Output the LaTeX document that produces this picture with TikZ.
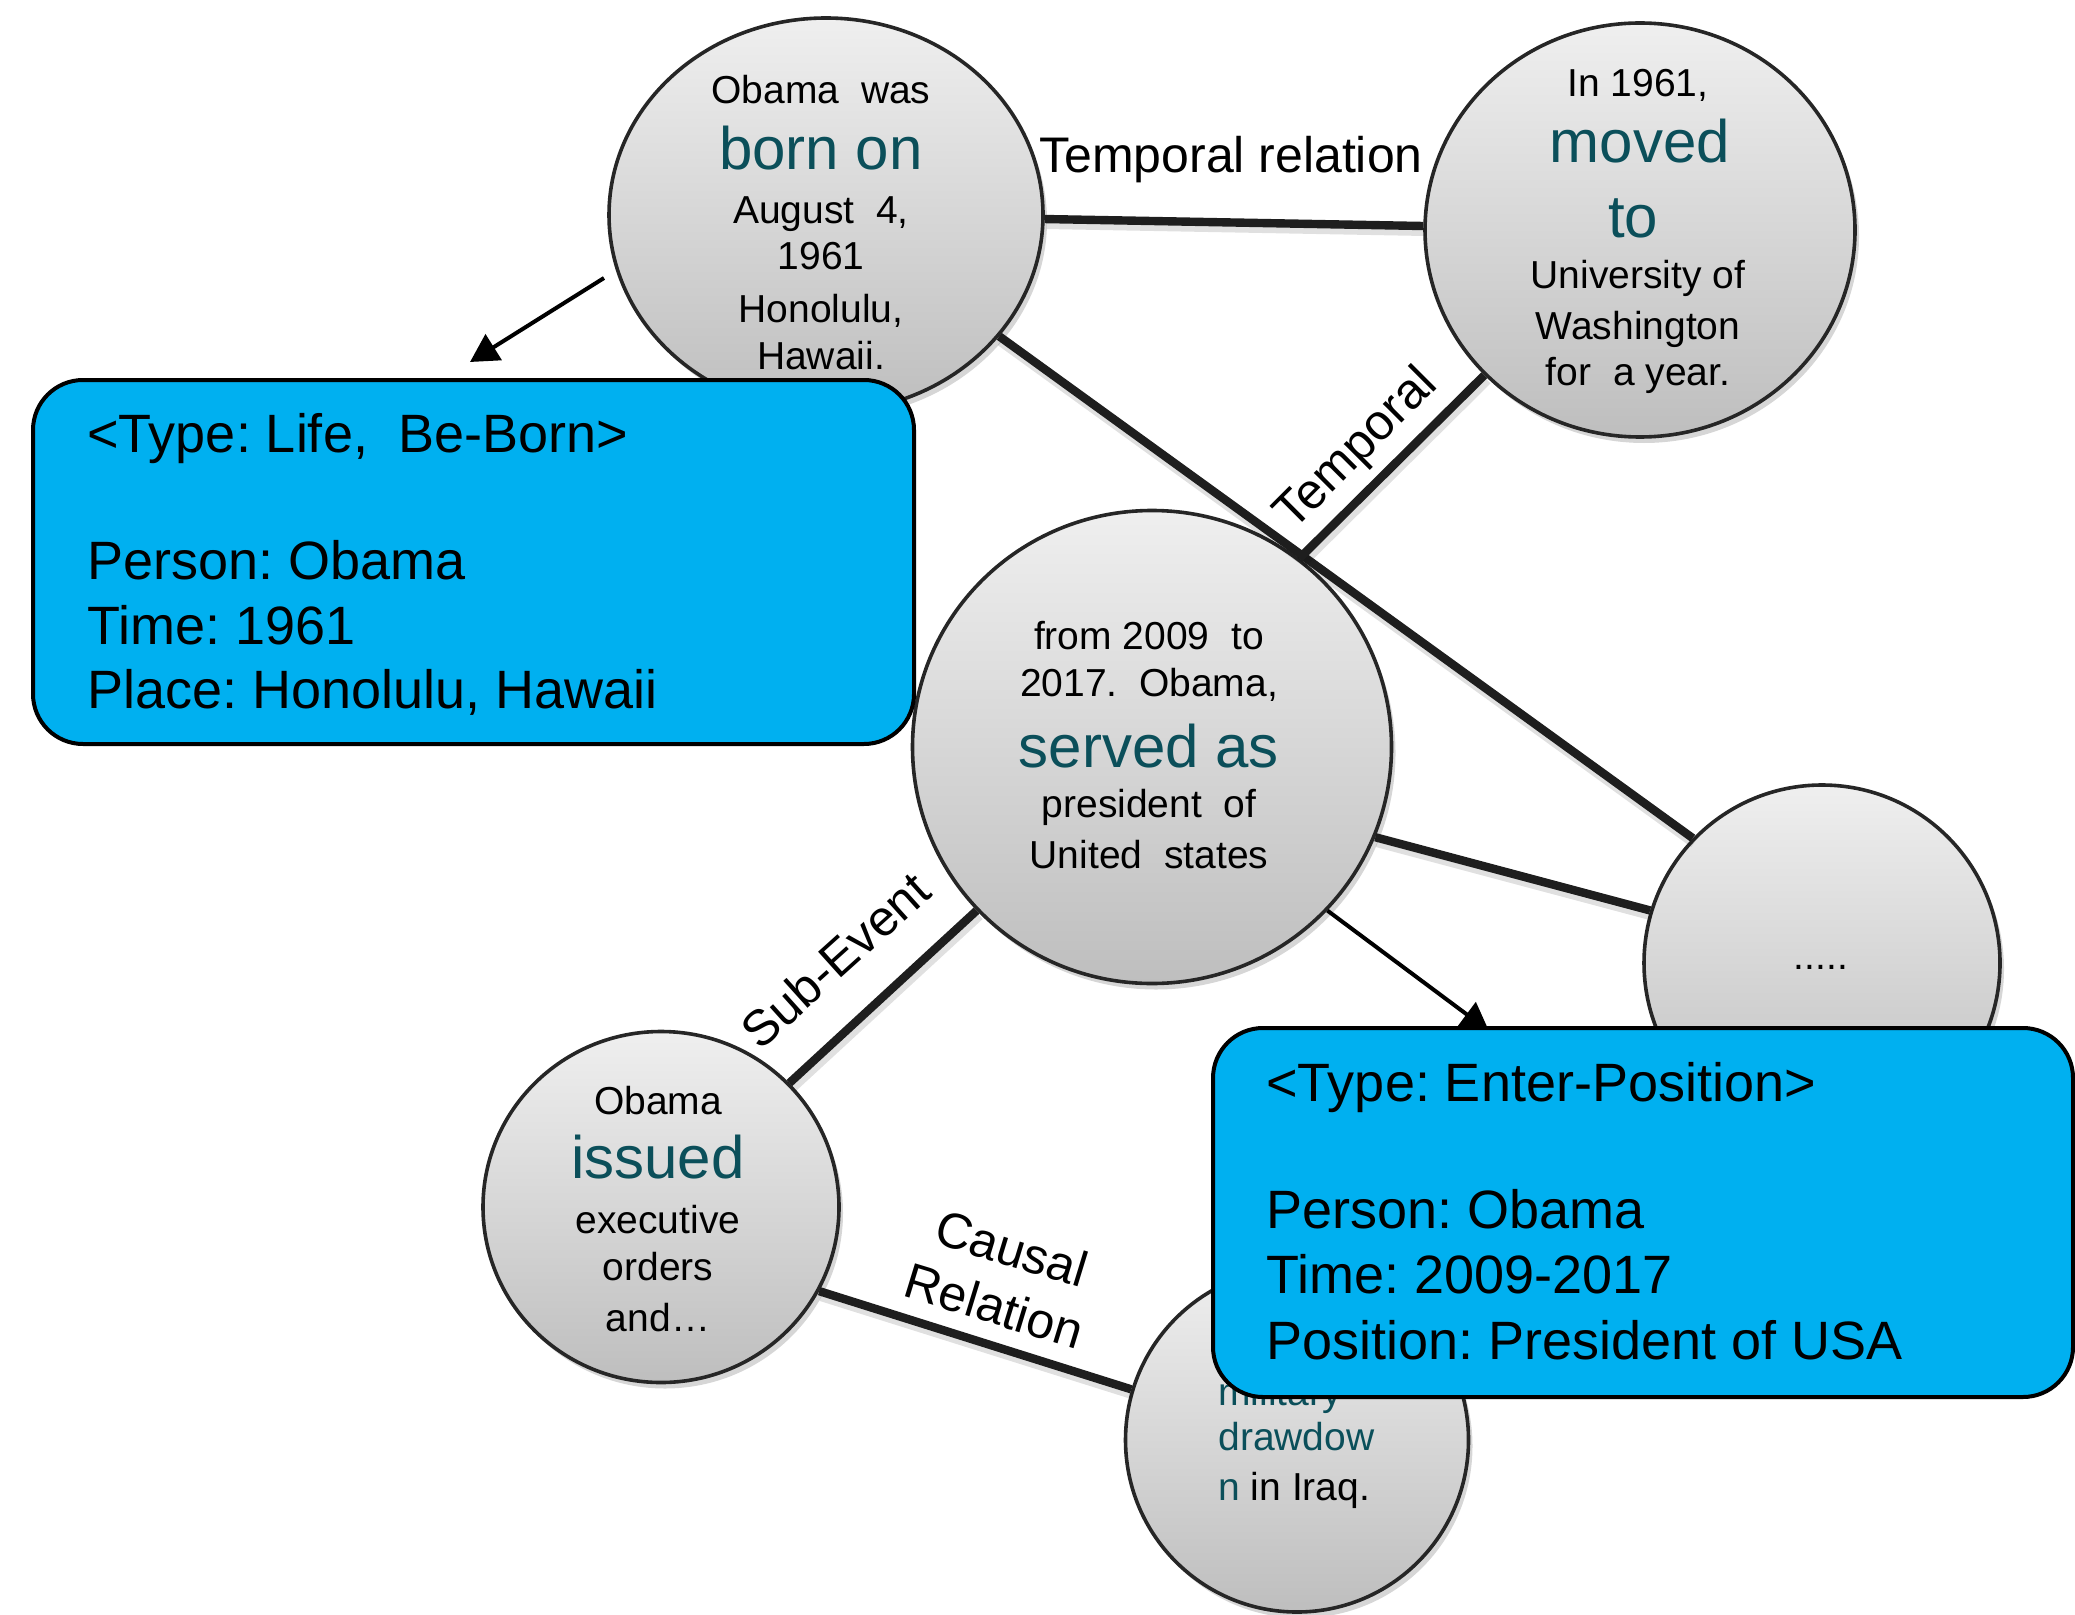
\documentclass[tikz,border=0pt]{standalone}
\usepackage{fontspec}
\setmainfont{Liberation Sans}
\usetikzlibrary{shapes.geometric,arrows.meta,shadows}

\definecolor{verbteal}{HTML}{0B4F5A}
\definecolor{eventblue}{HTML}{00B0F0}
\definecolor{linkgray}{HTML}{1E1E1E}
\definecolor{ringgray}{HTML}{262626}
\definecolor{bubbletop}{HTML}{EFEFEF}
\definecolor{bubblebottom}{HTML}{BEBEBE}

\tikzset{
  bubble/.style={ellipse, inner sep=0pt, draw=ringgray, line width=1.8pt,
    top color=bubbletop, bottom color=bubblebottom,
    drop shadow={shadow xshift=2pt, shadow yshift=-3pt, opacity=0.16, fill=black}},
  word/.style={anchor=base, inner sep=0pt, font=\fontsize{19.5}{23}\selectfont},
  verb/.style={anchor=base, inner sep=0pt, text=verbteal, font=\fontsize{30}{34}\selectfont},
  leftword/.style={anchor=base west, inner sep=0pt, font=\fontsize{19.5}{23}\selectfont},
  link/.style={draw=linkgray, line width=4.2pt,
    preaction={draw=black, opacity=0.12, line width=6pt,
      transform canvas={shift={(1pt,-2pt)}}}},
  linklabel/.style={inner sep=0pt, font=\fontsize{25}{30}\selectfont},
  pointer/.style={draw=black, line width=2pt, -{Triangle[length=14pt,width=15pt]}},
  eventbox/.style={rectangle, draw=black, line width=2pt, fill=eventblue,
    rounded corners=25pt, inner sep=0pt},
  slot/.style={anchor=base west, inner sep=0pt, font=\fontsize{27}{32}\selectfont},
}

\begin{document}
\frenchspacing
\begin{tikzpicture}[x=0.5pt, y=-0.5pt]
\useasboundingbox (0,0) rectangle (2075,1615);

% event mention bubbles
\node[bubble, minimum width=217pt, minimum height=197pt] (a) at (826,215) {};
\node[bubble, minimum width=215pt, minimum height=207pt] (b) at (1640,230) {};
\node[bubble, minimum width=239.5pt, minimum height=236.5pt] (c) at (1152,747) {};
\node[bubble, minimum width=178pt, minimum height=175.5pt] (d) at (661,1207) {};
\node[bubble, minimum width=171.5pt, minimum height=172pt] (e) at (1297,1440) {};
\node[bubble, minimum width=178pt, minimum height=178pt] (f) at (1822,963) {};

% sentence fragments inside the bubbles
\node[word] (a1) at (821,104) {Obama\ \ was};
\node[verb] (a2) at (821,170) {born on};
\node[word] (a3) at (821,224) {August\ \ 4,};
\node[word] (a4) at (821,270) {1961};
\node[word] (a5) at (821,322) {Honolulu,};
\node[word] (a6) at (821,370) {Hawaii.};

\node[word] (b1) at (1638,97) {In 1961,};
\node[verb] (b2) at (1640,163) {moved};
\node[verb] (b3) at (1633,238) {to};
\node[word] (b4) at (1638,289) {University of};
\node[word] (b5) at (1638,340) {Washington};
\node[word] (b6) at (1638,386) {for\ \ a year.};

\node[word] (c1) at (1149,649) {from 2009\ \ to};
\node[word] (c2) at (1149,696) {2017.\ \ Obama,};
\node[verb] (c3) at (1149,767) {served as};
\node[word] (c4) at (1149,817) {president\ \ of};
\node[word] (c5) at (1149,868) {United\ \ states};

\node[word] (d1) at (658,1114) {Obama};
\node[verb] (d2) at (658,1178) {issued};
\node[word] (d3) at (658,1233) {executive};
\node[word] (d4) at (658,1280) {orders};
\node[word] (d5) at (658,1331) {and…};

\node[leftword, text=verbteal] (e1) at (1218,1405) {military};
\node[leftword, text=verbteal] (e2) at (1218,1450) {drawdow};
\node[leftword] (e3) at (1218,1500) {{\color{verbteal}n} in Iraq.};

\node[word] (f1) at (1821,969) {.....};

% relations between events
\draw[link] (a) -- (b);
\draw[link] (a.-35) -- (f.136);
\draw[link] (b.223) -- (c.52);
\draw[link] (c.-22) -- (f.163);
\draw[link] (c.223) -- (d.44);
\draw[link] (d.-28) -- (e.163);

\node[linklabel, anchor=base] (l1) at (1231,173) {Temporal relation};
\node[linklabel, rotate=45] (l2) at (1357,450) {Temporal};
\node[linklabel, rotate=42] (l3) at (835,960) {Sub-Event};
\node[linklabel, rotate=-17, align=center] (l4) at (1003,1277) {Causal\\Relation};

% pointers from mentions to their event records
\coordinate (aout) at (604,278);
\coordinate (bornin) at (470,362);
\coordinate (posin) at (1489,1031);
\draw[pointer] (aout) -- (bornin);
\draw[pointer] (c.-43) -- (posin);

% event records
\node[eventbox, minimum width=440.5pt, minimum height=182pt] (born) at (473.5,562) {};
\node[eventbox, minimum width=430pt, minimum height=184.5pt] (pos) at (1643,1212.5) {};

\node[slot] (p1) at (87,452) {<Type: Life,\ \ Be-Born>};
\node[slot] (p2) at (87,579) {Person: Obama};
\node[slot] (p3) at (87,644) {Time: 1961};
\node[slot] (p4) at (87,708) {Place: Honolulu, Hawaii};

\node[slot] (q1) at (1266,1101) {<Type: Enter-Position>};
\node[slot] (q2) at (1266,1228) {Person: Obama};
\node[slot] (q3) at (1266,1293) {Time: 2009-2017};
\node[slot] (q4) at (1266,1359) {Position: President of USA};
\end{tikzpicture}
\end{document}
